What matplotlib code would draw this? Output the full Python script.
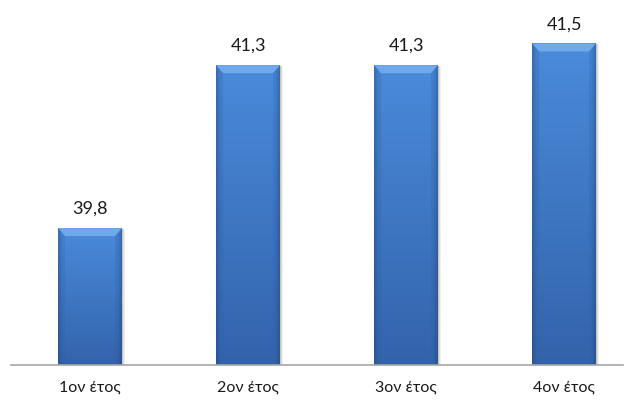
import matplotlib
matplotlib.use("Agg")
import matplotlib.pyplot as plt
from matplotlib.patches import Polygon, Rectangle
import numpy as np

plt.rcParams['font.family'] = ['Lato', 'DejaVu Sans']

categories = ['1ον έτος', '2ον έτος', '3ον έτος', '4ον έτος']
values = [39.8, 41.3, 41.3, 41.5]
value_labels = ['39,8', '41,3', '41,3', '41,5']

ymin, ymax = 38.54, 41.90
bar_w = 0.405

fig = plt.figure(figsize=(6.3, 4.04), dpi=100)
ax = fig.add_axes([11 / 630, 39 / 404, 611.5 / 630, 365 / 404])
ax.set_xlim(-0.5, 3.37)
ax.set_ylim(ymin, ymax)

# pixel sizes in data units, used for bevel and shadow
px_x = 3.87 / 611.5
px_y = (ymax - ymin) / 365


def bar_image(h=200, w=64):
    top = np.array([0x4a, 0x8b, 0xdb]) / 255
    bot = np.array([0x33, 0x63, 0xab]) / 255
    t = np.linspace(0, 1, h)[:, None, None]
    img = top * (1 - t) + bot * t
    img = np.repeat(img, w, axis=1)
    # darker side strips
    xs = np.arange(w)
    edge = np.clip(np.minimum(xs, w - 1 - xs) / 4.0, 0, 1)
    shade = 0.82 + 0.18 * edge
    return np.clip(img * shade[None, :, None], 0, 1)


img = bar_image()

for i, v in enumerate(values):
    x0, x1 = i - bar_w / 2, i + bar_w / 2
    # soft shadow
    for k, a in [(3, 0.06), (2, 0.08), (1, 0.1)]:
        ax.add_patch(Rectangle((x0 + k * px_x, ymin), bar_w, v - ymin - k * px_y * 0.3,
                               facecolor='black', alpha=a, lw=0, zorder=1))
    ax.imshow(img, extent=(x0, x1, ymin, v), aspect='auto', zorder=2,
              interpolation='bilinear')
    # bevel on top of the bar
    dx, dy = 7 * px_x, 8 * px_y
    ax.add_patch(Polygon([(x0, v), (x1, v), (x1 - dx, v - dy), (x0 + dx, v - dy)],
                         closed=True, facecolor='#6fa9ec', lw=0, zorder=3))
    ax.add_patch(Polygon([(x0, v), (x0 + dx, v - dy), (x0 + dx, ymin), (x0, ymin)],
                         closed=True, facecolor='#2f5fa6', alpha=0.25, lw=0, zorder=3))
    ax.add_patch(Polygon([(x1, v), (x1 - dx, v - dy), (x1 - dx, ymin), (x1, ymin)],
                         closed=True, facecolor='#2f5fa6', alpha=0.25, lw=0, zorder=3))
    ax.annotate(value_labels[i], (i, v), xytext=(0, 8), textcoords='offset points',
                ha='center', va='bottom', fontsize=13, color='#1a1a1a')

ax.set_xticks(range(len(categories)))
ax.set_xticklabels(categories, fontsize=11.5, color='#1a1a1a')
ax.tick_params(axis='x', length=0, pad=11)
ax.set_yticks([])
for side in ['left', 'right', 'top']:
    ax.spines[side].set_visible(False)
ax.spines['bottom'].set_color('#a6a6a6')
ax.spines['bottom'].set_linewidth(1.2)
ax.spines['bottom'].set_zorder(4)

fig.savefig('out.png', dpi=100)
